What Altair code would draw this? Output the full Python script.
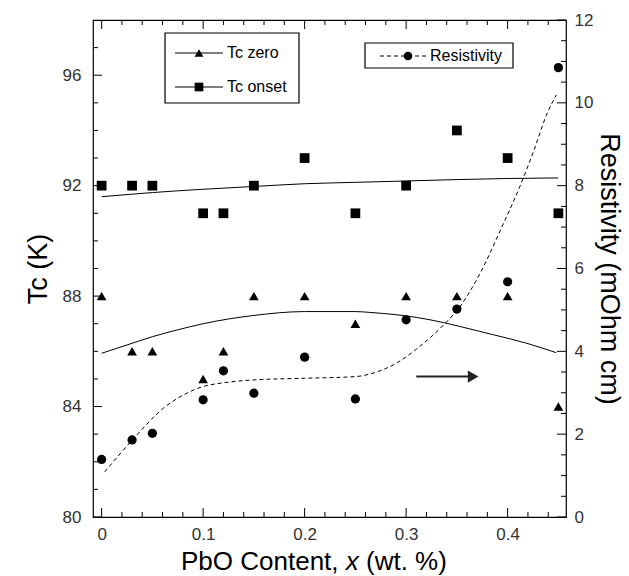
import altair as alt
import pandas as pd

# ---------------- data ----------------
x_vals = [0.00, 0.03, 0.05, 0.10, 0.12, 0.15, 0.20, 0.25, 0.30, 0.35, 0.40, 0.45]
tc_zero = [88, 86, 86, 85, 86, 88, 88, 87, 88, 88, 88, 84]
tc_onset = [92, 92, 92, 91, 91, 92, 93, 91, 92, 94, 93, 91]
resistivity = [1.39, 1.86, 2.02, 2.83, 3.53, 2.99, 3.86, 2.85, 4.76, 5.02, 5.68, 10.85]

onset_fit_x = [0.00, 0.05, 0.10, 0.15, 0.20, 0.25, 0.30, 0.35, 0.40, 0.45]
onset_fit_y = [91.60, 91.75, 91.87, 91.97, 92.07, 92.12, 92.17, 92.22, 92.26, 92.28]

zero_fit_x = [0.00, 0.025, 0.05, 0.075, 0.10, 0.15, 0.20, 0.25, 0.264, 0.31, 0.337, 0.353, 0.386, 0.419, 0.448]
zero_fit_y = [85.93, 86.23, 86.53, 86.78, 87.00, 87.30, 87.44, 87.44, 87.41, 87.23, 87.04, 86.90, 86.60, 86.29, 85.95]

res_fit_x = [0.003, 0.031, 0.061, 0.084, 0.10, 0.12, 0.15, 0.20, 0.25, 0.264, 0.29, 0.313, 0.337, 0.353, 0.373, 0.393, 0.412, 0.426, 0.439, 0.448]
res_fit_y = [1.09, 1.88, 2.63, 2.99, 3.15, 3.24, 3.31, 3.35, 3.39, 3.45, 3.71, 4.11, 4.64, 5.08, 5.89, 6.93, 7.98, 8.86, 9.75, 10.19]

x_major = [0, 0.1, 0.2, 0.3, 0.4]
x_minor = [0.02, 0.04, 0.06, 0.08, 0.12, 0.14, 0.16, 0.18, 0.22, 0.24, 0.26, 0.28,
           0.32, 0.34, 0.36, 0.38, 0.42, 0.44]
yl_major = [80, 84, 88, 92, 96]
yl_minor = [81, 82, 83, 85, 86, 87, 89, 90, 91, 93, 94, 95, 97]
yr_major = [0, 2, 4, 6, 8, 10, 12]
yr_minor = [0.5, 1, 1.5, 2.5, 3, 3.5, 4.5, 5, 5.5, 6.5, 7, 7.5, 8.5, 9, 9.5, 10.5, 11, 11.5]

x_title_parts = ["PbO Content,", "x", "(wt. %)"]

arrow_x = [0.31]
arrow_x2 = [0.362]
arrow_head_x = [0.366]
arrow_y = [3.39]

# ---------------- layout ----------------
W, H = 473, 497
FONT = "Liberation Sans"
MAJ, MIN = 9, 5

xscale = alt.Scale(domain=[-0.0085, 0.4575], nice=False, zero=False)
yls = alt.Scale(domain=[80, 98], nice=False, zero=False)
yrs = alt.Scale(domain=[0, 12], nice=False, zero=False)

AX = alt.Axis(values=x_major, format=".1~f", ticks=False, domain=False, grid=False,
              labelFontSize=17, labelPadding=9, labelColor="#333", title=None)
AYL = alt.Axis(values=yl_major, ticks=False, domain=False, grid=False,
               labelFontSize=17, labelPadding=12, labelColor="#333",
               title="Tc (K)", titleFontSize=27, titleFontWeight="normal", titlePadding=10)
AYR = alt.Axis(orient="right", values=yr_major, ticks=False, domain=False, grid=False,
               labelFontSize=17, labelPadding=8, labelColor="#333",
               title="Resistivity (mOhm cm)", titleFontSize=27,
               titleFontWeight="normal", titleAngle=90, titlePadding=2)

pts = pd.DataFrame({"x": x_vals, "zero": tc_zero, "onset": tc_onset, "rho": resistivity})
onset_fit = pd.DataFrame({"x": onset_fit_x, "y": onset_fit_y})
zero_fit = pd.DataFrame({"x": zero_fit_x, "y": zero_fit_y})
res_fit = pd.DataFrame({"x": res_fit_x, "y": res_fit_y})
dummy = pd.DataFrame({"a": [0]})


def X(f="x"):
    return alt.X(f"{f}:Q", scale=xscale, axis=AX)


def YL(f):
    return alt.Y(f"{f}:Q", scale=yls, axis=AYL)


def YR(f):
    return alt.Y(f"{f}:Q", scale=yrs, axis=AYR)


# ---------- left-axis layer ----------
tri = alt.Chart(pts).mark_point(shape="triangle-up", filled=True, color="black", size=95, opacity=1).encode(
    x=X(), y=YL("zero"))
sq = alt.Chart(pts).mark_point(shape="square", filled=True, color="black", size=95, opacity=1).encode(
    x=X(), y=YL("onset"))
l_onset = alt.Chart(onset_fit).mark_line(color="black", strokeWidth=1, interpolate="monotone").encode(
    x=X(), y=YL("y"))
l_zero = alt.Chart(zero_fit).mark_line(color="black", strokeWidth=1, interpolate="monotone").encode(
    x=X(), y=YL("y"))


def xticks(vals, length):
    d = pd.DataFrame({"v": vals})
    b = alt.Chart(d).mark_rule(color="black", strokeWidth=1).encode(
        x=X("v"), y=alt.value(H), y2=alt.value(H - length))
    t = alt.Chart(d).mark_rule(color="black", strokeWidth=1).encode(
        x=X("v"), y=alt.value(0), y2=alt.value(length))
    return [b, t]


def yticks(vals, length, side):
    d = pd.DataFrame({"v": vals})
    if side == "left":
        return alt.Chart(d).mark_rule(color="black", strokeWidth=1).encode(
            y=YL("v"), x=alt.value(0), x2=alt.value(length))
    return alt.Chart(d).mark_rule(color="black", strokeWidth=1).encode(
        y=YR("v"), x=alt.value(W), x2=alt.value(W - length))


left = alt.layer(
    l_onset, l_zero, tri, sq,
    *xticks(x_major, MAJ), *xticks(x_minor, MIN),
    yticks(yl_major, MAJ, "left"), yticks(yl_minor, MIN, "left"),
)

# ---------- right-axis layer ----------
circ = alt.Chart(pts).mark_point(shape="circle", filled=True, color="black", size=85, opacity=1).encode(
    x=X(), y=YR("rho"))
l_res = alt.Chart(res_fit).mark_line(color="black", strokeWidth=1, strokeDash=[4, 3], interpolate="monotone").encode(
    x=X(), y=YR("y"))
arrow_df = pd.DataFrame({"x": arrow_x, "x2": arrow_x2, "y": arrow_y, "hx": arrow_head_x})
arrow_line = alt.Chart(arrow_df).mark_rule(color="#222", strokeWidth=2).encode(
    x=X(), x2="x2:Q", y=YR("y"))
arrow_head = alt.Chart(arrow_df).mark_point(shape="triangle-right", filled=True, color="#222", size=150, opacity=1).encode(
    x=X("hx"), y=YR("y"))

right = alt.layer(
    l_res, circ, arrow_line, arrow_head,
    yticks(yr_major, MAJ, "right"), yticks(yr_minor, MIN, "right"),
)


# ---------- legends and x title (decoration, pixel placed) ----------
def box(x1, x2, y1, y2):
    return alt.Chart(dummy).mark_rect(fill="white", stroke="black", strokeWidth=1.2).encode(
        x=alt.value(x1), x2=alt.value(x2), y=alt.value(y1), y2=alt.value(y2))


def seg(x1, x2, y, dash=None):
    kw = dict(color="black", strokeWidth=1)
    if dash:
        kw["strokeDash"] = dash
    return alt.Chart(dummy).mark_rule(**kw).encode(x=alt.value(x1), x2=alt.value(x2), y=alt.value(y))


def sym(shape, x, y, size):
    return alt.Chart(dummy).mark_point(shape=shape, filled=True, color="black", size=size, opacity=1).encode(
        x=alt.value(x), y=alt.value(y))


def txt(s, x, y, size=16, style="normal"):
    return alt.Chart(dummy).mark_text(text=s, align="left", baseline="middle", fontSize=size, font=FONT,
                                      fontStyle=style, color="black").encode(x=alt.value(x), y=alt.value(y))


TS = 26
TX0 = 88
TY = H + 45
legend = alt.layer(
    box(72, 206, 13, 83),
    seg(82, 130, 33), sym("triangle-up", 106, 33, 80), txt("Tc zero", 134, 33),
    seg(82, 130, 67), sym("square", 106, 67, 75), txt("Tc onset", 134, 67),
    box(272, 420, 23, 48),
    seg(287, 334, 36, [4, 3]), sym("circle", 315, 36, 75), txt("Resistivity", 337, 36),
    txt(x_title_parts[0], TX0, TY, TS),
    txt(x_title_parts[1], TX0 + 6.337 * TS, TY, TS, "italic"),
    txt(x_title_parts[2], TX0 + 7.115 * TS, TY, TS),
)

chart = alt.layer(left, right, legend).resolve_scale(y="independent").resolve_axis(y="independent").properties(
    width=W, height=H,
    autosize=alt.AutoSizeParams(type="none"),
    padding={"left": 93, "top": 20, "right": 63, "bottom": 59},
    background="white",
).configure_view(stroke="black", strokeWidth=1.2).configure_axis(
    labelFont=FONT, titleFont=FONT, titleColor="black"
)

chart.save("out.html", embed_options={"renderer": "svg", "actions": False})
